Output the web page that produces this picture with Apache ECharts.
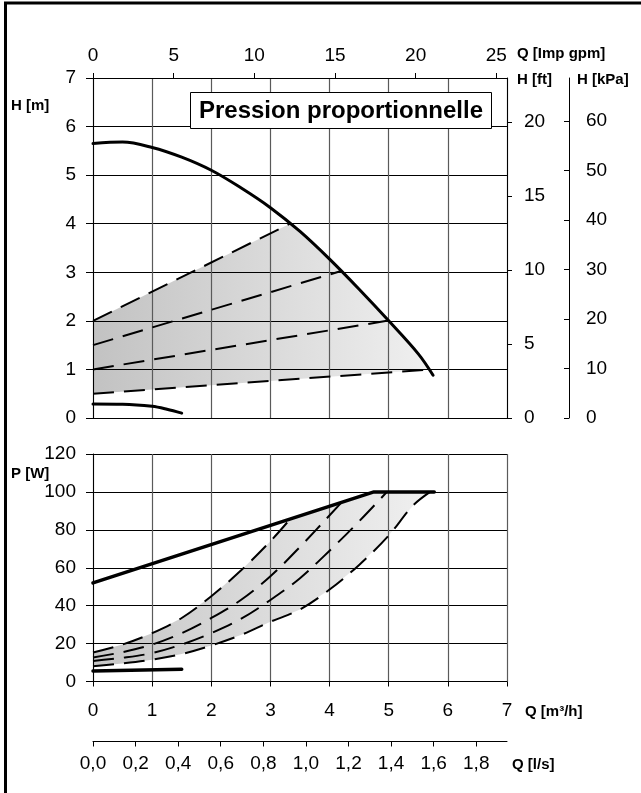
<!DOCTYPE html>
<html>
<head>
<meta charset="utf-8">
<script src="https://cdn.jsdelivr.net/npm/echarts@6/dist/echarts.min.js"></script>
<style>
  html, body { margin: 0; padding: 0; background: #fff; }
  #chart { width: 641px; height: 793px; }
</style>
</head>
<body>
<div id="chart"></div>
<script>
// ---- Pump curves: head H [m] and power P [W] against flow Q [m³/h] ----

// Head curves [Q m³/h, H m]
const headMax = [[0, 5.65], [0.5, 5.68], [1, 5.57], [1.5, 5.37], [2, 5.1], [2.5, 4.74], [3, 4.33],
                 [3.5, 3.84], [4, 3.27], [4.5, 2.65], [5, 2.0], [5.5, 1.32], [5.75, 0.88]];
const headMin = [[0, 0.29], [0.5, 0.285], [1, 0.24], [1.25, 0.18], [1.5, 0.1]];
// Proportional-pressure set lines
const headPP1 = [[0, 2.0], [3.33, 4.0]];
const headPP2 = [[0, 1.5], [4.18, 3.02]];
const headPP3 = [[0, 1.0], [4.97, 2.0]];
const headPP4 = [[0, 0.5], [5.7, 1.0]];

// Power curves [Q m³/h, P W]
const powerMax = [[0, 52], [4.75, 100], [5.77, 100]];
const powerMin = [[0, 5.6], [1.5, 6.5]];
const powerPP1 = [[0, 15.3], [0.5, 19.5], [1, 25.5], [1.5, 33.5], [2, 45], [2.5, 58.5], [3, 74], [3.33, 85.6]];
const powerPP2 = [[0, 12.7], [0.5, 15.5], [1, 19.5], [1.5, 25.5], [2, 33.5], [2.5, 43], [3, 55.5], [3.5, 71], [4.2, 94.4]];
const powerPP3 = [[0, 10.8], [0.5, 12.5], [1, 15], [1.5, 19.5], [2, 25.5], [2.5, 33], [3, 43], [3.5, 54.5], [4, 69], [4.5, 84.5], [4.97, 100]];
const powerPP4 = [[0, 8.1], [0.5, 9.5], [1, 11.5], [1.5, 14.5], [2, 19], [2.5, 24.5], [3, 31.5], [3.5, 38], [4, 48.5],
                  [4.5, 61.5], [5, 77], [5.4, 92.5], [5.7, 100]];

// Tick labels
const flowTicks = [0, 1, 2, 3, 4, 5, 6, 7];
const gpmTicks = [0, 5, 10, 15, 20, 25];
const litreTicks = [0, 0.2, 0.4, 0.6, 0.8, 1.0, 1.2, 1.4, 1.6, 1.8];
const headTicks = [0, 1, 2, 3, 4, 5, 6, 7];
const feetTicks = [0, 5, 10, 15, 20];
const kpaTicks = [0, 10, 20, 30, 40, 50, 60];
const powerTicks = [0, 20, 40, 60, 80, 100, 120];

// Unit conversions
const M3H_TO_GPM = 3.66615;
const M3H_TO_LS = 1 / 3.6;
const M_TO_FT = 3.28084;
const M_TO_KPA = 9.80665;
const FLOW_MAX = 7;
const HEAD_MAX = 7;

const FONT = '"Liberation Sans", Arial, sans-serif';
const NUM_SIZE = 19;
const UNIT_SIZE = 15;

function onTicks(ticks, fmt) {
  return function (v) {
    const hit = ticks.find(t => Math.abs(t - v) < 1e-6);
    return hit === undefined ? '' : (fmt ? fmt(hit) : String(hit));
  };
}
const commaFmt = v => v.toFixed(1).replace('.', ',');

// shaded band: upper set line, max curve between the set-line ends, lower set line back
const headBand = headPP1.concat(
  headMax.filter(p => p[0] > headPP1[1][0] && p[0] < headPP4[1][0]),
  headPP4.slice().reverse()
);
const powerBand = powerPP1.concat(
  powerMax.filter(p => p[0] > powerPP1[powerPP1.length - 1][0] && p[0] < powerPP4[powerPP4.length - 1][0]),
  powerPP4.slice().reverse()
);

function bandSeries(points, xi, yi, c0, c1) {
  return {
    type: 'custom', xAxisIndex: xi, yAxisIndex: yi, silent: true, z: 1,
    data: [[0, 0]],
    renderItem: function (params, api) {
      return {
        type: 'polygon',
        shape: { points: points.map(p => api.coord(p)), smooth: 0 },
        style: {
          fill: new echarts.graphic.LinearGradient(0, 0, 1, 0, [
            { offset: 0, color: c0 }, { offset: 1, color: c1 }
          ])
        }
      };
    }
  };
}

function solid(data, xi, yi, w, smooth) {
  return { type: 'line', xAxisIndex: xi, yAxisIndex: yi, data: data, smooth: smooth,
           symbol: 'none', z: 6, lineStyle: { color: '#000', width: w, cap: 'round' } };
}
function dashed(data, xi, yi, smooth) {
  return { type: 'line', xAxisIndex: xi, yAxisIndex: yi, data: data, smooth: smooth,
           symbol: 'none', z: 5, lineStyle: { color: '#000', width: 2, type: [21, 10] } };
}

const labelStyle = { color: '#000', fontSize: NUM_SIZE, fontFamily: FONT };
const blackLine = { show: true, onZero: false, lineStyle: { color: '#000', width: 1 } };
const vGrid = { show: true, lineStyle: { color: '#5a5a5a', width: 1.2 } };
const hGrid = { show: true, lineStyle: { color: '#000', width: 1 } };
// ticks only at the listed values (no extra tick at an unrounded axis end)
const ticksAt = (len, values, inside) => ({ show: true, inside: !!inside, length: len,
                                            lineStyle: { color: '#000' }, customValues: values });

const chart = echarts.init(document.getElementById('chart'), null, { renderer: 'canvas' });

const option = {
  animation: false,
  backgroundColor: '#fff',
  grid: [
    { left: 93, top: 78, width: 414, height: 340 },
    { left: 93, top: 454, width: 414, height: 227.5 }
  ],
  xAxis: [
    { // Q m³/h, head chart
      gridIndex: 0, type: 'value', position: 'bottom', min: 0, max: FLOW_MAX, interval: 1, z: 3,
      axisLine: blackLine, axisTick: { show: false }, axisLabel: { show: false }, splitLine: vGrid
    },
    { // Q Imp gpm
      gridIndex: 0, type: 'value', position: 'top', min: 0, max: FLOW_MAX * M3H_TO_GPM, interval: 5, z: 3,
      axisLine: blackLine, axisTick: ticksAt(5, gpmTicks),
      axisLabel: Object.assign({ margin: 13, formatter: onTicks(gpmTicks), customValues: gpmTicks }, labelStyle),
      splitLine: { show: false }
    },
    { // Q m³/h, power chart
      gridIndex: 1, type: 'value', position: 'bottom', min: 0, max: FLOW_MAX, interval: 1, z: 3,
      axisLine: blackLine, axisTick: ticksAt(5, flowTicks),
      axisLabel: Object.assign({ margin: 20, formatter: onTicks(flowTicks) }, labelStyle),
      splitLine: vGrid
    },
    { // Q l/s
      gridIndex: 1, type: 'value', position: 'bottom', offset: 60, min: 0, max: FLOW_MAX * M3H_TO_LS, interval: 0.2, z: 3,
      axisLine: blackLine, axisTick: ticksAt(5, litreTicks),
      axisLabel: Object.assign({ margin: 13, formatter: onTicks(litreTicks, commaFmt), customValues: litreTicks }, labelStyle),
      splitLine: { show: false }
    }
  ],
  yAxis: [
    { // H m
      gridIndex: 0, type: 'value', position: 'left', min: 0, max: HEAD_MAX, interval: 1, z: 3,
      axisLine: blackLine, axisTick: ticksAt(7, headTicks),
      axisLabel: Object.assign({ margin: 17, formatter: onTicks(headTicks) }, labelStyle),
      splitLine: hGrid
    },
    { // H ft
      gridIndex: 0, type: 'value', position: 'right', min: 0, max: HEAD_MAX * M_TO_FT, interval: 5, z: 3,
      axisLine: blackLine, axisTick: ticksAt(5, feetTicks),
      axisLabel: Object.assign({ margin: 17, formatter: onTicks(feetTicks), customValues: feetTicks }, labelStyle),
      splitLine: { show: false }
    },
    { // H kPa
      gridIndex: 0, type: 'value', position: 'right', offset: 62, min: 0, max: HEAD_MAX * M_TO_KPA, interval: 10, z: 3,
      axisLine: blackLine, axisTick: ticksAt(5, kpaTicks, true),
      axisLabel: Object.assign({ margin: 17, formatter: onTicks(kpaTicks), customValues: kpaTicks }, labelStyle),
      splitLine: { show: false }
    },
    { // P W
      gridIndex: 1, type: 'value', position: 'left', min: 0, max: 120, interval: 20, z: 3,
      axisLine: blackLine, axisTick: ticksAt(7, powerTicks),
      axisLabel: Object.assign({ margin: 17, formatter: onTicks(powerTicks) }, labelStyle),
      splitLine: hGrid
    }
  ],
  series: [
    bandSeries(headBand, 0, 0, '#c2c2c2', '#f0f0f0'),
    dashed(headPP1, 0, 0, false),
    dashed(headPP2, 0, 0, false),
    dashed(headPP3, 0, 0, false),
    dashed(headPP4, 0, 0, false),
    solid(headMax, 0, 0, 3, 0.35),
    solid(headMin, 0, 0, 3, 0.35),

    bandSeries(powerBand, 2, 3, '#c6c6c6', '#f0f0f0'),
    dashed(powerPP1, 2, 3, 0.35),
    dashed(powerPP2, 2, 3, 0.35),
    dashed(powerPP3, 2, 3, 0.35),
    dashed(powerPP4, 2, 3, 0.35),
    solid(powerMax, 2, 3, 3.5, false),
    solid(powerMin, 2, 3, 3.5, false)
  ],
  graphic: [
    // outer frame (top and left edges)
    { type: 'line', z: 100, shape: { x1: 4, y1: 3, x2: 641, y2: 3 }, style: { stroke: '#000', lineWidth: 3 } },
    { type: 'line', z: 100, shape: { x1: 5.5, y1: 2, x2: 5.5, y2: 793 }, style: { stroke: '#000', lineWidth: 3 } },
    // mode caption
    { type: 'rect', z: 100, shape: { x: 190.5, y: 92.5, width: 301, height: 36 }, style: { fill: '#fff', stroke: '#000', lineWidth: 1 } },
    { type: 'text', z: 101, x: 341, y: 111,
      style: { text: 'Pression proportionnelle', fontSize: 24, fontWeight: 'bold', fontFamily: FONT, fill: '#000', align: 'center', verticalAlign: 'middle' } },
    // axis units
    { type: 'text', z: 101, x: 11, y: 106, style: { text: 'H [m]', fontSize: UNIT_SIZE, fontWeight: 'bold', fontFamily: FONT, fill: '#000', verticalAlign: 'middle' } },
    { type: 'text', z: 101, x: 517, y: 54, style: { text: 'Q [Imp gpm]', fontSize: UNIT_SIZE, fontWeight: 'bold', fontFamily: FONT, fill: '#000', verticalAlign: 'middle' } },
    { type: 'text', z: 101, x: 517, y: 80, style: { text: 'H [ft]', fontSize: UNIT_SIZE, fontWeight: 'bold', fontFamily: FONT, fill: '#000', verticalAlign: 'middle' } },
    { type: 'text', z: 101, x: 577, y: 80, style: { text: 'H [kPa]', fontSize: UNIT_SIZE, fontWeight: 'bold', fontFamily: FONT, fill: '#000', verticalAlign: 'middle' } },
    { type: 'text', z: 101, x: 11, y: 474, style: { text: 'P [W]', fontSize: UNIT_SIZE, fontWeight: 'bold', fontFamily: FONT, fill: '#000', verticalAlign: 'middle' } },
    { type: 'text', z: 101, x: 525, y: 712, style: { text: 'Q [m³/h]', fontSize: UNIT_SIZE, fontWeight: 'bold', fontFamily: FONT, fill: '#000', verticalAlign: 'middle' } },
    { type: 'text', z: 101, x: 512, y: 765, style: { text: 'Q [l/s]', fontSize: UNIT_SIZE, fontWeight: 'bold', fontFamily: FONT, fill: '#000', verticalAlign: 'middle' } }
  ]
};

chart.setOption(option);
</script>
</body>
</html>
